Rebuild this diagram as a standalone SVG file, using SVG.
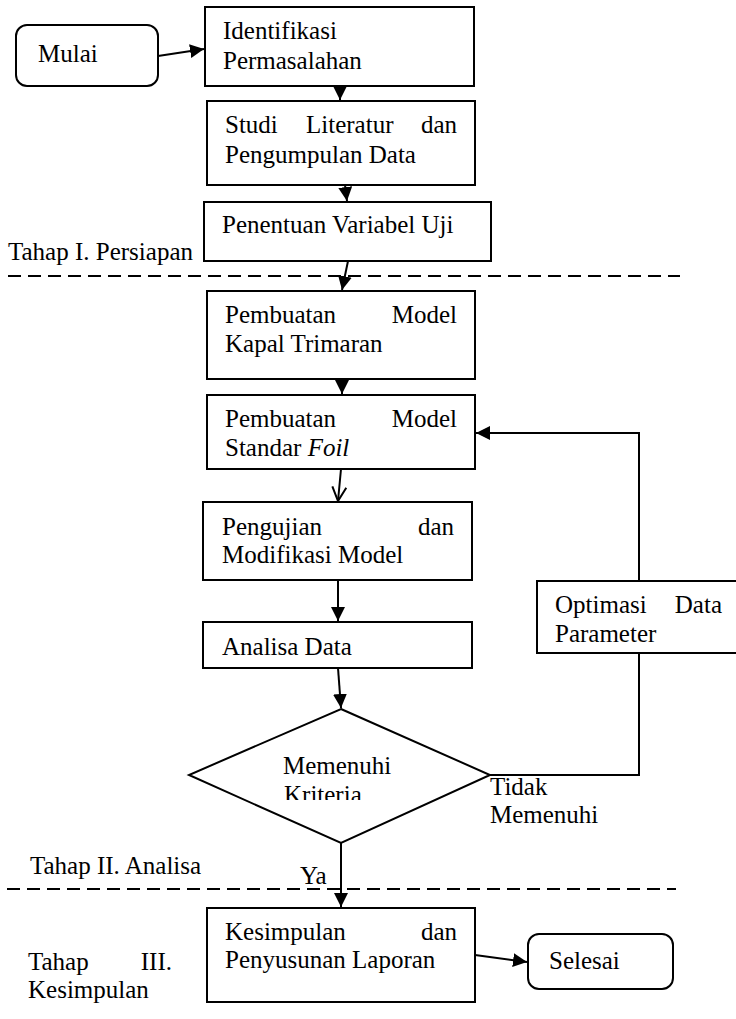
<svg xmlns="http://www.w3.org/2000/svg" width="736" height="1019" viewBox="0 0 736 1019">
<style>
text{font-family:"Liberation Serif","Times New Roman",serif;font-size:25px;fill:#000}
.box{fill:#fff;stroke:#000;stroke-width:2}
.ln{fill:none;stroke:#000;stroke-width:2}
.dash{fill:none;stroke:#000;stroke-width:2;stroke-dasharray:13 7}
.e{text-anchor:end}
</style>
<defs>
<marker id="ah" markerUnits="userSpaceOnUse" markerWidth="14" markerHeight="14" viewBox="0 0 14 14" refX="14" refY="7" orient="auto">
<path d="M0,0 L14,7 L0,14 Z" fill="#000"/>
</marker>
<marker id="av" markerUnits="userSpaceOnUse" markerWidth="16" markerHeight="16" viewBox="0 0 16 16" refX="15" refY="8" orient="auto">
<path d="M1,1 L15,8 L1,15" fill="none" stroke="#000" stroke-width="2"/>
</marker>
<clipPath id="kclip"><rect x="0" y="0" width="736" height="800"/></clipPath>
</defs>

<g id="lanes">
<line class="dash" x1="8" y1="276" x2="680" y2="276"/>
<line class="dash" x1="7" y1="889" x2="676" y2="889"/>
<text x="8" y="260">Tahap I. Persiapan</text>
<text x="30" y="874">Tahap II. Analisa</text>
<text x="28" y="970">Tahap</text>
<text class="e" x="172" y="970">III.</text>
<text x="28" y="998">Kesimpulan</text>
</g>

<g id="connectors">
<line class="ln" x1="158" y1="56" x2="204" y2="49" marker-end="url(#ah)"/>
<line class="ln" x1="340" y1="86" x2="340" y2="100" marker-end="url(#ah)"/>
<line class="ln" x1="345" y1="185" x2="347" y2="201" marker-end="url(#ah)"/>
<line class="ln" x1="348" y1="261" x2="342" y2="290" marker-end="url(#ah)"/>
<line class="ln" x1="342" y1="379" x2="342" y2="394" marker-end="url(#ah)"/>
<line class="ln" x1="341" y1="469" x2="338" y2="501" marker-end="url(#av)"/>
<line class="ln" x1="338" y1="580" x2="338" y2="621" marker-end="url(#ah)"/>
<line class="ln" x1="338" y1="668" x2="341" y2="708" marker-end="url(#ah)"/>
<line class="ln" x1="341" y1="843" x2="341" y2="907" marker-end="url(#ah)"/>
<line class="ln" x1="475" y1="955" x2="527" y2="962" marker-end="url(#ah)"/>
<polyline class="ln" points="490,775 639,775 639,653"/>
<polyline class="ln" points="639,581 639,433 476,433" marker-end="url(#ah)"/>
<text x="300" y="884">Ya</text>
<text x="490" y="795">Tidak</text>
<text x="490" y="823">Memenuhi</text>
</g>

<g id="mulai">
<rect class="box" x="16" y="25" width="142" height="61" rx="11"/>
<text x="38" y="62">Mulai</text>
</g>

<g id="identifikasi">
<rect class="box" x="205" y="7" width="269" height="79"/>
<text x="223" y="39">Identifikasi</text>
<text x="223" y="69">Permasalahan</text>
</g>

<g id="studi">
<rect class="box" x="207" y="101" width="268" height="84"/>
<text x="225" y="133">Studi</text>
<text x="306" y="133">Literatur</text>
<text class="e" x="457" y="133">dan</text>
<text x="225" y="163">Pengumpulan Data</text>
</g>

<g id="penentuan">
<rect class="box" x="204" y="202" width="287" height="59"/>
<text x="222" y="233">Penentuan Variabel Uji</text>
</g>

<g id="kapal">
<rect class="box" x="207" y="291" width="268" height="88"/>
<text x="225" y="323">Pembuatan</text>
<text class="e" x="457" y="323">Model</text>
<text x="225" y="352">Kapal Trimaran</text>
</g>

<g id="foil">
<rect class="box" x="207" y="395" width="268" height="74"/>
<text x="225" y="427">Pembuatan</text>
<text class="e" x="457" y="427">Model</text>
<text x="225" y="456">Standar <tspan font-style="italic">Foil</tspan></text>
</g>

<g id="pengujian">
<rect class="box" x="203" y="502" width="269" height="78"/>
<text x="222" y="535">Pengujian</text>
<text class="e" x="454" y="535">dan</text>
<text x="222" y="563">Modifikasi Model</text>
</g>

<g id="analisa">
<rect class="box" x="203" y="622" width="269" height="46"/>
<text x="222" y="655">Analisa Data</text>
</g>

<g id="kriteria">
<polygon class="box" points="341,709 490,775 341,843 189,775"/>
<text x="283" y="774">Memenuhi</text>
<text x="284" y="803" clip-path="url(#kclip)">Kriteria</text>
</g>

<g id="optimasi">
<rect class="box" x="537" y="581" width="210" height="72"/>
<text x="555" y="613">Optimasi</text>
<text class="e" x="722" y="613">Data</text>
<text x="555" y="642">Parameter</text>
</g>

<g id="kesimpulan">
<rect class="box" x="207" y="908" width="268" height="94"/>
<text x="225" y="940">Kesimpulan</text>
<text class="e" x="457" y="940">dan</text>
<text x="225" y="968">Penyusunan Laporan</text>
</g>

<g id="selesai">
<rect class="box" x="528" y="934" width="145" height="55" rx="11"/>
<text x="549" y="969">Selesai</text>
</g>
</svg>
